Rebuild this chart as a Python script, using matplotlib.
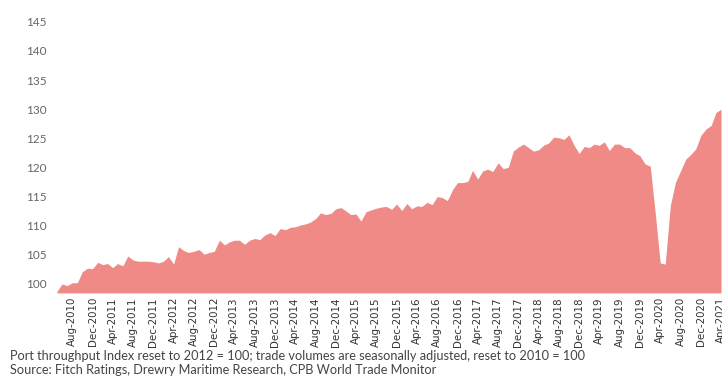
import matplotlib
matplotlib.use('Agg')
import matplotlib.pyplot as plt
import matplotlib.dates as mdates
import pandas as pd

# monthly index values, May 2010 .. Apr 2021
start_month = '2010-05-01'
throughput = [
    98.7, 100.0, 99.7, 100.2, 100.2, 102.1, 102.7, 102.6, 103.7, 103.3,
    103.5, 102.8, 103.5, 103.1, 104.8, 104.1, 103.9, 103.9, 103.9, 103.8,
    103.6, 103.9, 104.7, 103.4, 106.4, 105.7, 105.4, 105.6, 105.9, 105.1,
    105.4, 105.6, 107.5, 106.7, 107.2, 107.5, 107.5, 106.8, 107.5, 107.8,
    107.6, 108.4, 108.8, 108.3, 109.5, 109.3, 109.7, 109.8, 110.1, 110.3,
    110.6, 111.2, 112.2, 111.9, 112.1, 112.9, 113.1, 112.5, 111.9, 112.0,
    110.8, 112.4, 112.7, 113.0, 113.2, 113.3, 112.8, 113.7, 112.6, 113.8,
    112.9, 113.4, 113.3, 114.0, 113.6, 115.0, 114.8, 114.3, 116.2, 117.4,
    117.4, 117.6, 119.5, 118.0, 119.4, 119.7, 119.3, 120.8, 119.8, 120.0,
    122.8, 123.5, 124.0, 123.4, 122.8, 123.0, 123.8, 124.2, 125.2, 125.1,
    124.8, 125.6, 123.8, 122.4, 123.6, 123.4, 124.0, 123.8, 124.4, 122.9,
    124.0, 124.0, 123.4, 123.4, 122.5, 122.0, 120.6, 120.2, 112.5, 103.6,
    103.4, 113.5, 117.4, 119.4, 121.4, 122.2, 123.2, 125.5, 126.6, 127.2,
    129.4, 130.0,
]
y_ticks = [100, 105, 110, 115, 120, 125, 130, 135, 140, 145]
note_lines = [
    'Port throughput Index reset to 2012 = 100; trade volumes are seasonally adjusted, reset to 2010 = 100',
    'Source: Fitch Ratings, Drewry Maritime Research, CPB World Trade Monitor',
]

dates = pd.date_range(start_month, periods=len(throughput), freq='MS')

fig = plt.figure(figsize=(7.22, 3.77), dpi=100)
ax = fig.add_axes([0.076, 0.223, 0.924, 0.75])

y_floor = 98.45
ax.fill_between(dates, throughput, y_floor, color='#ef8a87', linewidth=0)
ax.set_ylim(y_floor, 147)
ax.set_xlim(dates[0] - pd.Timedelta(days=12), dates[-1] + pd.Timedelta(days=6))

for s in ax.spines.values():
    s.set_visible(False)

ax.set_yticks(y_ticks)
ax.tick_params(axis='y', length=0, pad=6, labelsize=8.5, labelcolor='#666666')
for t in ax.get_yticklabels():
    t.set_family('Lato')

ax.xaxis.set_major_locator(mdates.MonthLocator(bymonth=[4, 8, 12]))
ax.xaxis.set_major_formatter(mdates.DateFormatter('%b-%Y'))
ax.tick_params(axis='x', length=0, pad=3, labelsize=7.4, labelcolor='#333333',
               labelrotation=90)
for t in ax.get_xticklabels():
    t.set_family(['Liberation Sans Narrow', 'DejaVu Sans'])

fig.text(10 / 722, 1 - 356 / 377, note_lines[0], fontsize=9.2, color='#444444',
         family='Lato', va='center', ha='left')
fig.text(10 / 722, 1 - 370 / 377, note_lines[1], fontsize=9.2, color='#444444',
         family='Lato', va='center', ha='left')

fig.savefig('out.png', dpi=100, facecolor='white')
